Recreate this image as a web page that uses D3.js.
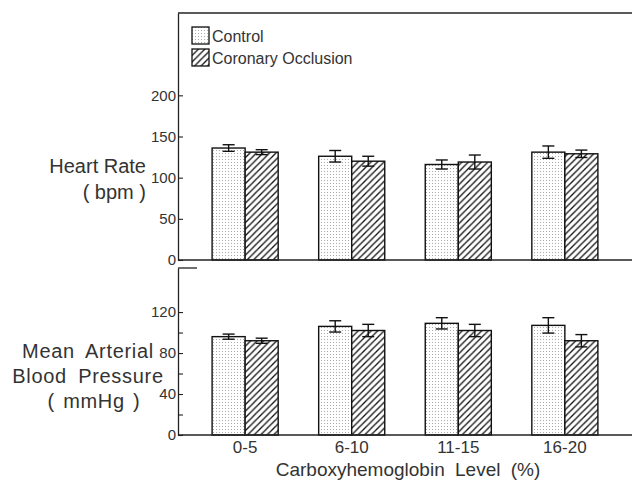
<!DOCTYPE html>
<html>
<head>
<meta charset="utf-8">
<script src="https://cdn.jsdelivr.net/npm/d3@7"></script>
<style>
  body { margin: 0; background: #fff; }
  svg { display: block; font-family: "Liberation Sans", Arial, sans-serif; }
</style>
</head>
<body>
<svg id="chart" width="632" height="486"></svg>
<script>
// carboxyhemoglobin level groups
let categories = ["0-5", "6-10", "11-15", "16-20"];
let seriesNames = ["Control", "Coronary Occlusion"];

// heart rate (bpm)
let hrControl = [136, 126, 116, 131];
let hrControlErr = [4, 7, 5.5, 7.5];
let hrOcclusion = [131, 120, 119, 129];
let hrOcclusionErr = [3, 6, 8.5, 4.5];

// mean arterial blood pressure (mmHg)
let mapControl = [96, 106, 109, 107];
let mapControlErr = [2.5, 5.5, 5.5, 7.5];
let mapOcclusion = [92, 102, 102, 92];
let mapOcclusionErr = [2.5, 6, 6, 6];

let hrTicks = [0, 50, 100, 150, 200];
let mapTicks = [0, 20, 40, 60, 80, 100, 120];
let mapTickLabels = [0, 40, 80, 120];

let svg = d3.select("#chart");
let left = 178;
let right = 632;

addPatterns();

let xScale = d3
  .scaleBand()
  .domain(categories)
  .range([left, 632])
  .paddingInner(0.38)
  .paddingOuter(0.32);

let xSub = d3
  .scaleBand()
  .domain(seriesNames)
  .range([0, xScale.bandwidth()]);

let hrScale = d3.scaleLinear().domain([0, 300]).range([260, 13]);
let mapScale = d3.scaleLinear().domain([0, 163]).range([435, 268]);

drawPanel(hrScale, hrControl, hrControlErr, hrOcclusion, hrOcclusionErr, hrTicks, hrTicks);
drawPanel(mapScale, mapControl, mapControlErr, mapOcclusion, mapOcclusionErr, mapTicks, mapTickLabels);

// top border of upper panel, stub on lower panel
svg.append("line")
  .attr("x1", left).attr("x2", right)
  .attr("y1", hrScale(300)).attr("y2", hrScale(300))
  .attr("stroke", "#222").attr("stroke-width", 1.3);
svg.append("line")
  .attr("x1", left).attr("x2", left + 19)
  .attr("y1", mapScale(163)).attr("y2", mapScale(163))
  .attr("stroke", "#222").attr("stroke-width", 1.3);

drawLegend();
drawLabels();

function addPatterns() {
  let defs = svg.append("defs");
  let dots = defs.append("pattern")
    .attr("id", "dots")
    .attr("patternUnits", "userSpaceOnUse")
    .attr("width", 3).attr("height", 3);
  dots.append("rect").attr("width", 3).attr("height", 3).attr("fill", "#fff");
  dots.append("rect").attr("width", 1).attr("height", 1).attr("fill", "#aaa");

  let hatch = defs.append("pattern")
    .attr("id", "hatch")
    .attr("patternUnits", "userSpaceOnUse")
    .attr("width", 6.5).attr("height", 6.5);
  hatch.append("rect").attr("width", 6.5).attr("height", 6.5).attr("fill", "#fff");
  hatch.append("path")
    .attr("d", "M0,6.5 L6.5,0 M-1,1 L1,-1 M5.5,7.5 L7.5,5.5")
    .attr("stroke", "#111").attr("stroke-width", 1.3);
}

function drawPanel(yScale, control, controlErr, occl, occlErr, ticks, labels) {
  let rows = categories.map((c, i) => [
    { cat: c, series: seriesNames[0], v: control[i], e: controlErr[i] },
    { cat: c, series: seriesNames[1], v: occl[i], e: occlErr[i] },
  ]).flat();

  let g = svg.append("g");

  g.selectAll(".bar")
    .data(rows)
    .enter()
    .append("rect")
    .attr("class", "bar")
    .attr("x", (d) => xScale(d.cat) + xSub(d.series))
    .attr("y", (d) => yScale(d.v))
    .attr("width", xSub.bandwidth())
    .attr("height", (d) => yScale(0) - yScale(d.v))
    .attr("fill", (d) => (d.series == "Control" ? "url(#dots)" : "url(#hatch)"))
    .attr("stroke", "#111")
    .attr("stroke-width", 1.4);

  let err = g.selectAll(".err")
    .data(rows)
    .enter()
    .append("g")
    .attr("class", "err")
    .attr("transform", (d) => `translate(${xScale(d.cat) + xSub(d.series) + xSub.bandwidth() / 2},0)`)
    .attr("stroke", "#111")
    .attr("stroke-width", 1.4);
  err.append("line")
    .attr("y1", (d) => yScale(d.v + d.e))
    .attr("y2", (d) => yScale(d.v - d.e));
  err.append("line")
    .attr("x1", -6).attr("x2", 6)
    .attr("y1", (d) => yScale(d.v + d.e))
    .attr("y2", (d) => yScale(d.v + d.e));
  err.append("line")
    .attr("x1", -6).attr("x2", 6)
    .attr("y1", (d) => yScale(d.v - d.e))
    .attr("y2", (d) => yScale(d.v - d.e));

  // baseline
  g.append("line")
    .attr("x1", left).attr("x2", right)
    .attr("y1", yScale(0)).attr("y2", yScale(0))
    .attr("stroke", "#222").attr("stroke-width", 1.3);

  let yAxis = d3.axisLeft(yScale)
    .tickValues(ticks)
    .tickSizeInner(-5)
    .tickSizeOuter(0)
    .tickPadding(2)
    .tickFormat((d) => (labels.includes(d) ? d : ""));

  let ga = g.append("g")
    .attr("transform", `translate(${left},0)`)
    .call(yAxis);
  ga.select(".domain").attr("stroke", "#222").attr("stroke-width", 1.3);
  ga.selectAll(".tick line").attr("stroke", "#222").attr("stroke-width", 1.1);
  ga.selectAll(".tick text")
    .attr("font-size", 15)
    .attr("font-family", "Liberation Sans, Arial, sans-serif")
    .attr("fill", "#333");
}

function drawLegend() {
  let legend = svg.append("g");
  let items = legend.selectAll("g")
    .data(seriesNames)
    .enter()
    .append("g")
    .attr("transform", (d, i) => `translate(192,${27 + i * 22})`);
  items.append("rect")
    .attr("width", 17).attr("height", 17)
    .attr("fill", (d, i) => (i == 0 ? "url(#dots)" : "url(#hatch)"))
    .attr("stroke", "#111").attr("stroke-width", 1.3);
  items.append("text")
    .attr("x", 20).attr("y", 15)
    .attr("font-size", 16)
    .attr("fill", "#333")
    .text((d) => d);
}

function drawLabels() {
  let lab = svg.append("g").attr("fill", "#333");

  lab.append("g")
    .selectAll("text")
    .data(categories)
    .enter()
    .append("text")
    .attr("x", (d) => xScale(d) + xScale.bandwidth() / 2)
    .attr("y", 453)
    .attr("text-anchor", "middle")
    .attr("font-size", 17)
    .text((d) => d);

  lab.append("text")
    .attr("x", 408).attr("y", 476)
    .attr("text-anchor", "middle")
    .attr("font-size", 19)
    .attr("word-spacing", 5)
    .text("Carboxyhemoglobin Level (%)");

  lab.append("text")
    .attr("x", 146).attr("y", 173)
    .attr("text-anchor", "end")
    .attr("font-size", 20)
    .text("Heart Rate");
  lab.append("text")
    .attr("x", 146).attr("y", 199)
    .attr("text-anchor", "end")
    .attr("font-size", 20)
    .text("( bpm )");

  let mapLines = ["Mean Arterial", "Blood Pressure", "( mmHg )"];
  lab.append("g")
    .selectAll("text")
    .data(mapLines)
    .enter()
    .append("text")
    .attr("x", (d, i) => (i == 2 ? 94 : 88))
    .attr("y", (d, i) => 358 + i * 25)
    .attr("text-anchor", "middle")
    .attr("font-size", 20)
    .attr("letter-spacing", 0.7)
    .attr("word-spacing", (d, i) => (i == 2 ? 2 : 5))
    .text((d) => d);
}
</script>
</body>
</html>
